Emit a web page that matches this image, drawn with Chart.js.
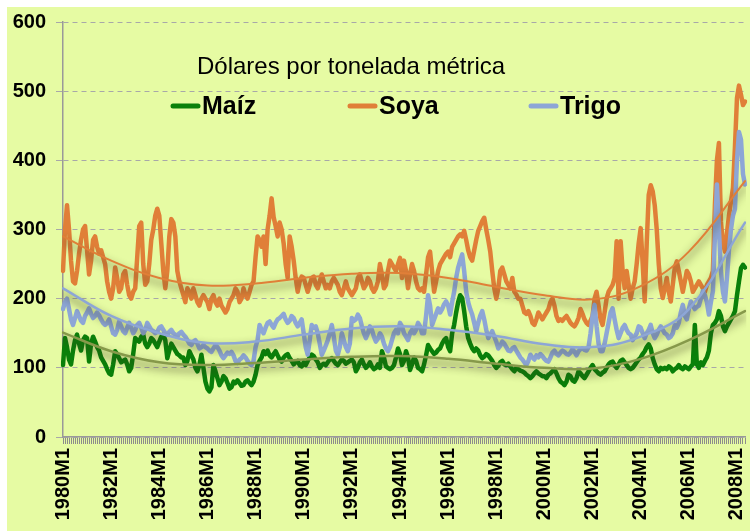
<!DOCTYPE html>
<html>
<head>
<meta charset="utf-8">
<script src="https://cdn.jsdelivr.net/npm/chart.js@4.4.1/dist/chart.umd.min.js"></script>
<style>
  html, body { margin: 0; padding: 0; background: #fff; }
</style>
</head>
<body>
<canvas id="chart" width="750" height="531"></canvas>
<script>
// Monthly prices, USD per metric ton, 1980M1 .. 2008M5 (one row per year)
const maiz = [
  104, 143, 130, 112, 105, 125, 140, 148, 135, 125, 140, 145,
  143, 109, 135, 145, 138, 130, 125, 115, 110, 105, 98, 92,
  90, 105, 124, 120, 114, 108, 110, 112, 105, 95, 100, 120,
  143, 140, 138, 145, 148, 135, 130, 135, 143, 140, 135, 130,
  138, 145, 148, 140, 114, 125, 135, 130, 125, 120, 118, 115,
  115, 104, 110, 124, 118, 112, 100, 95, 104, 119, 100, 80,
  70, 66, 72, 104, 95, 85, 75, 80, 88, 85, 78, 70,
  72, 80, 78, 82, 78, 74, 75, 80, 82, 78, 75, 80,
  90, 104, 110, 115, 124, 120, 125, 118, 115, 120, 124, 118,
  112, 109, 115, 118, 120, 114, 110, 105, 108, 110, 104, 102,
  108, 104, 110, 115, 119, 117, 112, 108, 100, 104, 106, 104,
  108, 112, 114, 110, 106, 104, 108, 112, 110, 106, 108, 110,
  112, 108, 95, 100, 108, 112, 105, 100, 103, 108, 102, 98,
  100, 105, 100, 124, 115, 102, 100, 98, 100, 104, 115, 128,
  120, 104, 110, 124, 115, 97, 105, 115, 110, 100, 98, 95,
  105, 118, 133, 128, 124, 120, 122, 126, 128, 135, 140, 143,
  130, 124, 150, 162, 180, 195, 205, 201, 182, 160, 143, 135,
  128, 124, 128, 125, 118, 114, 116, 120, 118, 114, 110, 104,
  100, 103, 108, 110, 105, 104, 106, 102, 98, 95, 100, 98,
  96, 95, 93, 90, 88, 85, 88, 92, 95, 92, 90, 88,
  88, 85, 90, 92, 95, 98, 92, 85, 80, 78, 75, 80,
  90, 88, 82, 80, 85, 95, 92, 88, 85, 90, 95, 100,
  104, 98, 95, 92, 90, 93, 95, 100, 105, 108, 109, 104,
  100, 105, 110, 112, 108, 104, 100, 98, 100, 104, 108, 112,
  115, 120, 124, 130, 134, 128, 114, 105, 98, 95, 100, 98,
  100, 98, 102, 100, 95, 98, 100, 104, 100, 98, 102, 100,
  98, 102, 105, 162, 105, 100, 108, 104, 110, 115, 125, 150,
  162, 165, 170, 182, 175, 160, 153, 160, 165, 170, 175, 182,
  205, 225, 244, 249, 245
];

const soya = [
  240, 300, 335, 300, 255, 225, 222, 240, 265, 285, 300, 305,
  270, 235, 255, 285, 290, 275, 265, 270, 260, 250, 225, 210,
  200, 215, 245, 230, 210, 215, 235, 240, 220, 205, 200, 210,
  215, 260, 305, 310, 250, 220, 225, 250, 285, 300, 320, 330,
  320, 280, 240, 215, 240, 290, 315, 310, 290, 240, 225, 215,
  205, 195, 215, 210, 200, 215, 205, 195, 190, 200, 205, 200,
  195, 185, 200, 205, 195, 190, 200, 190, 185, 180, 185, 195,
  200, 205, 215, 210, 195, 200, 215, 205, 200, 210, 220, 225,
  260, 290, 285, 275, 290, 250, 300, 320, 345, 318, 305, 290,
  310, 300, 280, 250, 230, 290, 275, 255, 230, 210, 225, 232,
  230, 220, 210, 220, 230, 232, 220, 215, 225, 235, 225, 215,
  220, 215, 225, 230, 225, 220, 210, 205, 215, 225, 215, 210,
  205, 210, 215, 230, 235, 225, 215, 220, 230, 225, 215, 210,
  215, 225, 250, 235, 215, 220, 240, 255, 250, 245, 240, 250,
  259, 230, 255, 240, 215, 235, 250, 240, 225, 215, 212, 215,
  210, 235, 260, 268, 240, 210, 225, 240, 250, 255, 260, 265,
  268, 260, 275, 280, 285, 290, 293, 290, 298, 285, 270, 260,
  255, 270, 285, 298, 305, 312, 317, 300, 285, 268, 240, 215,
  200, 215, 240, 245, 235, 225, 220, 215, 230, 210, 206, 200,
  200, 190, 180, 178, 182, 175, 165, 162, 170, 180, 175, 170,
  175, 180, 185, 195, 200, 190, 175, 168, 170, 168, 172, 175,
  170, 165, 162, 160, 165, 172, 185, 178, 170, 165, 162, 168,
  175, 200, 210, 190, 170, 162, 180, 200, 210, 215, 220, 230,
  283, 200, 283, 240, 215, 240, 220, 200, 215, 225, 250, 280,
  302, 250, 196, 280, 350, 364, 355, 335, 300, 250, 215, 201,
  215, 230, 210, 196, 220, 245, 254, 240, 225, 210, 225, 240,
  235, 225, 210, 215, 220, 225, 220, 215, 210, 220, 225, 230,
  240, 335, 400, 425, 311, 280, 268, 295, 320, 340, 360, 420,
  490, 508, 495, 480, 485
];

const trigo = [
  185, 195, 200, 185, 170, 162, 172, 182, 175, 168, 165, 175,
  180, 186, 178, 172, 175, 180, 176, 170, 165, 162, 165, 170,
  160, 150, 148, 155, 167, 160, 153, 150, 158, 165, 158, 150,
  155, 162, 165, 158, 150, 155, 165, 160, 155, 153, 150, 152,
  158, 160, 155, 150, 148, 152, 155, 150, 148, 145, 150, 152,
  148, 145, 140, 135, 133, 138, 140, 135, 128, 130, 133, 130,
  128, 125, 123, 128, 133, 130, 125, 118, 114, 118, 122, 120,
  123, 118, 110, 107, 112, 114, 118, 115, 110, 106, 104, 110,
  130, 140, 162, 155, 150, 158, 165, 167, 162, 158, 165, 170,
  172, 175, 178, 170, 165, 168, 175, 172, 165, 160, 165, 170,
  150, 130, 119, 140, 162, 158, 160, 150, 135, 119, 125, 132,
  140, 150, 162, 145, 125, 119, 130, 150, 140, 130, 124, 135,
  172, 168, 170, 177, 172, 160, 150, 143, 150, 160, 155, 145,
  138, 142, 150, 145, 135, 128, 124, 130, 140, 150, 155, 150,
  165, 160, 150, 145, 140, 150, 155, 150, 155, 165, 160, 150,
  150, 175, 205, 190, 162, 170, 178, 186, 180, 185, 192, 196,
  190, 177, 195, 210, 230, 245, 255, 264, 240, 210, 195, 185,
  177, 165, 153, 165, 175, 182, 170, 155, 143, 148, 153, 145,
  138, 128, 132, 138, 135, 130, 125, 124, 128, 130, 125, 120,
  115, 112, 108, 104, 110, 119, 115, 112, 118, 115, 120, 117,
  113, 110, 109, 115, 122, 125, 120, 118, 122, 125, 123, 120,
  119, 122, 127, 123, 118, 124, 127, 128, 126, 125, 130, 150,
  175, 191, 160, 135, 124, 124, 135, 150, 165, 180, 186, 170,
  155, 143, 150, 158, 162, 155, 150, 148, 140, 145, 150, 160,
  158, 150, 143, 150, 155, 162, 150, 143, 148, 155, 160, 155,
  150, 148, 143, 145, 150, 162, 158, 165, 180, 191, 175, 170,
  185, 196, 190, 185, 188, 190, 200, 211, 205, 195, 177, 195,
  211, 290, 365, 300, 240, 210, 196, 230, 270, 300, 320, 330,
  400, 441, 430, 380, 365
];

// Trend curves, read every two years
const trendAt = ['1980M1', '1982M1', '1984M1', '1986M1', '1988M1', '1990M1', '1992M1', '1994M1',
  '1996M1', '1998M1', '2000M1', '2002M1', '2004M1', '2006M1', '2008M5'];
const maizTrend = [151, 124, 108, 104, 107, 112, 116, 117, 113, 106, 100, 99, 113, 140, 182];
const soyaTrend = [290, 255, 230, 219, 222, 230, 236, 237, 230, 217, 205, 199, 218, 268, 370];
const trigoTrend = [215, 175, 150, 136, 138, 148, 157, 160, 155, 146, 134, 130, 145, 185, 310];

const tickLabels = ['1980M1', '1982M1', '1984M1', '1986M1', '1988M1', '1990M1', '1992M1', '1994M1',
  '1996M1', '1998M1', '2000M1', '2002M1', '2004M1', '2006M1', '2008M1'];

// month categories
const months = [];
for (let y = 1980; months.length < maiz.length; y++) {
  for (let m = 1; m <= 12 && months.length < maiz.length; m++) months.push(y + 'M' + m);
}

const FONT = "'Liberation Sans', Arial, sans-serif";
const GREEN = '#0A800A';
const ORANGE = '#E07F38';
const BLUE = '#8DA6D6';

const trendPoints = vals => trendAt.map((l, i) => ({ x: l, y: vals[i] }));

// yellow panel behind everything
const backdrop = {
  id: 'backdrop',
  beforeDraw(chart) {
    const ctx = chart.ctx;
    ctx.save();
    ctx.fillStyle = '#fff';
    ctx.fillRect(0, 0, chart.width, chart.height);
    ctx.fillStyle = '#E6FBA3';
    ctx.fillRect(7, 7, chart.width - 7, chart.height - 7);
    ctx.restore();
  }
};

// soft shadow under the trend curves
const trendShadow = {
  id: 'trendShadow',
  beforeDatasetDraw(chart, args) {
    if (!chart.data.datasets[args.index].trend) return;
    const ctx = chart.ctx;
    ctx.save();
    ctx.shadowColor = 'rgba(55, 55, 25, 0.9)';
    ctx.shadowBlur = 8;
    ctx.shadowOffsetY = 5;
  },
  afterDatasetDraw(chart, args) {
    if (!chart.data.datasets[args.index].trend) return;
    chart.ctx.restore();
  }
};

// title text and legend inside the plot
const legendBox = {
  id: 'legendBox',
  afterDraw(chart) {
    const ctx = chart.ctx;
    ctx.save();
    ctx.fillStyle = '#000';
    ctx.textBaseline = 'middle';
    ctx.font = '24px ' + FONT;
    ctx.fillText('Dólares por tonelada métrica', 197, 67);
    const items = [
      { text: 'Maíz', color: GREEN, x: 171 },
      { text: 'Soya', color: ORANGE, x: 348 },
      { text: 'Trigo', color: BLUE, x: 529 }
    ];
    ctx.lineCap = 'round';
    ctx.lineWidth = 5;
    items.forEach(it => {
      ctx.strokeStyle = it.color;
      ctx.beginPath();
      ctx.moveTo(it.x + 2, 106);
      ctx.lineTo(it.x + 27, 106);
      ctx.stroke();
      ctx.font = 'bold 25px ' + FONT;
      ctx.fillText(it.text, it.x + 31, 107);
    });
    ctx.restore();
  }
};

new Chart(document.getElementById('chart'), {
  type: 'line',
  data: {
    labels: months,
    datasets: [
      { label: 'Tendencia Maíz', data: trendPoints(maizTrend), borderColor: '#86994A', borderWidth: 2.5, tension: 0.4, order: 0, trend: true },
      { label: 'Tendencia Soya', data: trendPoints(soyaTrend), borderColor: ORANGE, borderWidth: 2, tension: 0.4, order: 0, trend: true },
      { label: 'Tendencia Trigo', data: trendPoints(trigoTrend), borderColor: BLUE, borderWidth: 2.5, tension: 0.4, order: 0, trend: true },
      { label: 'Trigo', data: trigo, borderColor: BLUE, borderWidth: 4.5, tension: 0, order: 1 },
      { label: 'Soya', data: soya, borderColor: ORANGE, borderWidth: 4.5, tension: 0, order: 2 },
      { label: 'Maíz', data: maiz, borderColor: GREEN, borderWidth: 4.5, tension: 0, order: 3 }
    ]
  },
  options: {
    responsive: false,
    animation: false,
    layout: { padding: { top: 20, right: 5, left: 0, bottom: 0 } },
    plugins: { legend: { display: false }, tooltip: { enabled: false } },
    elements: {
      point: { radius: 0 },
      line: { borderJoinStyle: 'round', borderCapStyle: 'round' }
    },
    scales: {
      x: {
        type: 'category',
        offset: false,
        grid: { drawOnChartArea: false, drawTicks: true, tickLength: 7, color: '#8C8C8C', lineWidth: 1 },
        border: { display: true, color: '#999', width: 1.5 },
        ticks: {
          autoSkip: false, maxRotation: 90, minRotation: 90, padding: 4, color: '#000',
          font: { family: FONT, size: 20, weight: 'bold' },
          callback: (v, i) => (i % 24 === 0 ? tickLabels[i / 24] : '')
        },
        afterFit: s => { s.height = 94; s.paddingLeft = 0; s.paddingRight = 0; }
      },
      y: {
        min: 0, max: 600,
        ticks: { stepSize: 100, padding: 10, color: '#000', font: { family: FONT, size: 20, weight: 'bold' } },
        grid: { color: '#A8A8A8', tickLength: 7, lineWidth: 1 },
        border: { display: true, color: '#999', width: 1.5, dash: [5, 4] },
        afterFit: s => { s.width = 63; }
      }
    }
  },
  plugins: [backdrop, trendShadow, legendBox]
});
</script>
</body>
</html>
